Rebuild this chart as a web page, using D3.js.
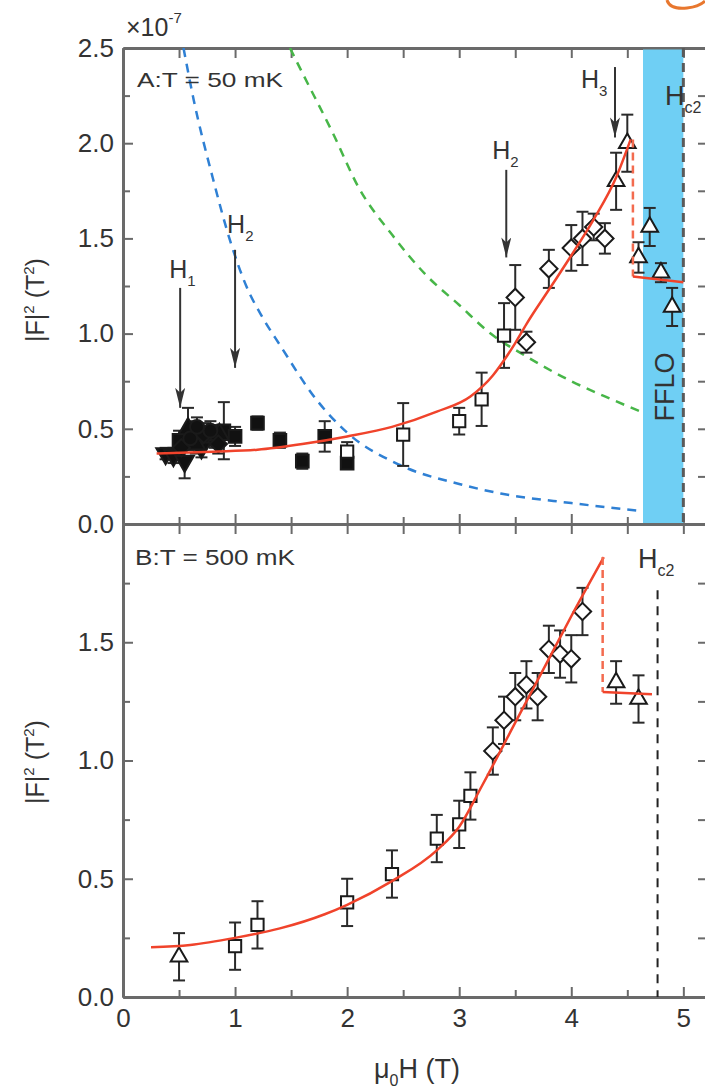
<!DOCTYPE html>
<html lang="en">
<head>
<meta charset="utf-8">
<title>FFLO form factor vs field</title>
<script src="https://cdn.jsdelivr.net/npm/d3@7"></script>
<style>
  body { margin: 0; background: #fff; }
  svg { display: block; font-family: "Liberation Sans", Arial, sans-serif; }
  .axis path { stroke: #6a6a6a; stroke-width: 3; }
  .axis line { stroke: #6a6a6a; stroke-width: 2; }
  .axis text { fill: #333; font-size: 26px; }
</style>
</head>
<body>
<svg id="chart" width="705" height="1092"></svg>
<script>
// field in tesla, |F|^2 in units of 1e-7 T^2
var xTicks = [0, 1, 2, 3, 4, 5];
var xMinor = [0.5, 1.5, 2.5, 3.5, 4.5];
var yTicksA = [0, 0.5, 1.0, 1.5, 2.0, 2.5];
var yMinorA = [0.25, 0.75, 1.25, 1.75, 2.25];
var yTicksB = [0, 0.5, 1.0, 1.5];
var yMinorB = [0.25, 0.75, 1.25, 1.75];

// ---- panel A : T = 50 mK ----  [field, value, error]
var aFilledSquares = [[0.50, 0.44, 0.05], [0.62, 0.48, 0.06], [0.68, 0.43, 0.05], [0.75, 0.46, 0.05],
  [0.82, 0.45, 0.05], [0.90, 0.49, 0.15], [1.0, 0.46, 0.05], [1.2, 0.53, 0.035], [1.4, 0.44, 0.04],
  [1.6, 0.33, 0.04], [1.8, 0.46, 0.08], [2.0, 0.32, 0.03]];
var aFilledDown = [[0.38, 0.37, 0.03], [0.45, 0.36, 0.04], [0.55, 0.33, 0.09], [0.70, 0.40, 0.05]];
var aFilledUp = [[0.58, 0.50, 0.11], [0.65, 0.42, 0.05], [0.86, 0.47, 0.05]];
var aFilledDiamonds = [[0.52, 0.40, 0.05], [0.72, 0.47, 0.06], [0.85, 0.42, 0.05]];
var aFilledCircles = [[0.60, 0.45, 0.06], [0.78, 0.49, 0.05], [0.66, 0.51, 0.05]];
var aOpenSquares = [[2.0, 0.38, 0.05], [2.5, 0.47, 0.165], [3.0, 0.54, 0.07], [3.2, 0.655, 0.14], [3.4, 0.99, 0.17]];
var aOpenDiamonds = [[3.5, 1.19, 0.17], [3.6, 0.955, 0.055], [3.8, 1.34, 0.10], [4.0, 1.45, 0.12],
  [4.1, 1.50, 0.14], [4.2, 1.56, 0.07], [4.3, 1.50, 0.08]];
var aOpenTriangles = [[4.4, 1.80, 0.15], [4.5, 2.00, 0.15], [4.6, 1.40, 0.08], [4.7, 1.56, 0.10],
  [4.8, 1.32, 0.05], [4.9, 1.14, 0.10]];
var aFit = [[0.3, 0.37], [0.8, 0.38], [1.2, 0.39], [1.6, 0.42], [2.0, 0.46], [2.4, 0.51], [2.8, 0.59],
  [3.1, 0.67], [3.3, 0.78], [3.4, 0.86], [3.5, 0.95], [3.6, 1.05], [3.8, 1.23], [4.0, 1.41],
  [4.2, 1.60], [4.4, 1.82], [4.53, 2.02]];
var aJump = [[4.55, 2.02], [4.55, 1.30]];
var aHigh = [[4.55, 1.30], [5.0, 1.27]];
var aBlue = [[0.54, 2.5], [0.63, 2.23], [0.8, 1.82], [0.96, 1.48], [1.1, 1.25], [1.25, 1.08], [1.4, 0.94],
  [1.73, 0.65], [2.0, 0.48], [2.47, 0.31], [3.0, 0.21], [3.37, 0.16], [4.0, 0.11], [4.6, 0.07]];
var aGreen = [[1.49, 2.5], [1.6, 2.37], [1.875, 2.05], [2.1, 1.77], [2.4, 1.52], [2.7, 1.31], [3.0, 1.15],
  [3.28, 1.0], [3.6, 0.88], [4.0, 0.75], [4.3, 0.67], [4.62, 0.59]];
var ffloBand = [4.64, 5.0];
var hc2A = 5.0;

// ---- panel B : T = 500 mK ----
var bOpenSquares = [[1.0, 0.215, 0.10], [1.2, 0.305, 0.10], [2.0, 0.40, 0.10], [2.4, 0.52, 0.10],
  [2.8, 0.67, 0.10], [3.0, 0.73, 0.10], [3.1, 0.85, 0.10]];
var bOpenDiamonds = [[3.3, 1.04, 0.10], [3.4, 1.17, 0.10], [3.5, 1.27, 0.10], [3.6, 1.32, 0.10],
  [3.7, 1.27, 0.10], [3.8, 1.47, 0.10], [3.9, 1.45, 0.10], [4.0, 1.43, 0.10], [4.1, 1.63, 0.10]];
var bOpenTriangles = [[0.5, 0.17, 0.10], [4.4, 1.33, 0.09], [4.6, 1.26, 0.10]];
var bFit = [[0.25, 0.21], [0.6, 0.22], [1.0, 0.25], [1.4, 0.29], [1.8, 0.35], [2.0, 0.39], [2.4, 0.49],
  [2.8, 0.62], [3.0, 0.72], [3.2, 0.89], [3.5, 1.16], [3.8, 1.43], [4.0, 1.61], [4.29, 1.86]];
var bJump = [[4.28, 1.86], [4.28, 1.29]];
var bHigh = [[4.28, 1.29], [4.72, 1.28]];
var hc2B = 4.77;

// arrows in panel A: field, start value, tip value, label offset (px)
var arrowsA = [
  {name: 'H', sub: '1', h: 0.51, from: 1.24, to: 0.61, dx: -11, dy: -10},
  {name: 'H', sub: '2', h: 1.0, from: 1.44, to: 0.82, dx: -8, dy: -17},
  {name: 'H', sub: '2', h: 3.42, from: 1.86, to: 1.40, dx: -14, dy: -11},
  {name: 'H', sub: '3', h: 4.39, from: 2.40, to: 2.03, dx: -34, dy: 21}
];

var svg = d3.select('#chart');

var x = d3.scaleLinear().domain([0, 5.22]).range([123, 708]);
var yA = d3.scaleLinear().domain([0, 2.5]).range([524, 48]);
var yB = d3.scaleLinear().domain([0, 2.0]).range([997, 524]);

var defs = svg.append('defs');
defs.append('marker')
  .attr('id', 'head')
  .attr('viewBox', '0 0 20 10')
  .attr('refX', 20).attr('refY', 5)
  .attr('markerWidth', 20).attr('markerHeight', 10)
  .attr('markerUnits', 'userSpaceOnUse')
  .attr('orient', 'auto')
  .append('path')
  .attr('d', 'M0,0 L20,5 L0,10 L5,5 Z')
  .attr('fill', '#333');

// clip for panel A curves
defs.append('clipPath').attr('id', 'clipA')
  .append('rect').attr('x', 123).attr('y', 48).attr('width', 585).attr('height', 476);

var fmt = d3.format('.1f');

function drawAxes(y, major, minor, opts) {
  var g = svg.append('g');
  var yr = y.range();
  // left
  g.append('g').attr('class', 'axis').attr('transform', 'translate(123,0)')
    .call(d3.axisLeft(y).tickValues(major).tickSizeInner(-10).tickSizeOuter(0).tickPadding(9).tickFormat(fmt));
  g.append('g').attr('class', 'axis').attr('transform', 'translate(123,0)')
    .call(d3.axisLeft(y).tickValues(minor).tickSizeInner(-7).tickSizeOuter(0).tickFormat(''));
  // right
  g.append('g').attr('class', 'axis').attr('transform', 'translate(708,0)')
    .call(d3.axisRight(y).tickValues(major.concat(minor)).tickSizeInner(-10).tickSizeOuter(0).tickFormat(''));
  // top
  g.append('g').attr('class', 'axis').attr('transform', 'translate(0,' + yr[1] + ')')
    .call(d3.axisTop(x).tickValues(xTicks.concat(xMinor)).tickSizeInner(-10).tickSizeOuter(0).tickFormat(''));
  // bottom
  g.append('g').attr('class', 'axis').attr('transform', 'translate(0,' + yr[0] + ')')
    .call(d3.axisBottom(x).tickValues(xTicks).tickSizeInner(-10).tickSizeOuter(0).tickPadding(12)
      .tickFormat(opts.xLabels ? d3.format('d') : ''));
  g.append('g').attr('class', 'axis').attr('transform', 'translate(0,' + yr[0] + ')')
    .call(d3.axisBottom(x).tickValues(xMinor).tickSizeInner(-7).tickSizeOuter(0).tickFormat(''));
  return g;
}

function line(y) {
  return d3.line().x(function(d) { return x(d[0]); }).y(function(d) { return y(d[1]); });
}
function smooth(y) {
  return line(y).curve(d3.curveMonotoneX);
}

function errorBars(g, data, y) {
  var eb = g.append('g').attr('stroke', '#2a2a2a').attr('stroke-width', 2);
  data.forEach(function(d) {
    var cx = x(d[0]), y1 = y(d[1] + d[2]), y2 = y(d[1] - d[2]);
    eb.append('line').attr('x1', cx).attr('x2', cx).attr('y1', y1).attr('y2', y2);
    eb.append('line').attr('x1', cx - 6).attr('x2', cx + 6).attr('y1', y1).attr('y2', y1);
    eb.append('line').attr('x1', cx - 6).attr('x2', cx + 6).attr('y1', y2).attr('y2', y2);
  });
}

function symbols(g, data, y, type, size, rot, filled) {
  g.append('g').selectAll('path').data(data).enter().append('path')
    .attr('d', d3.symbol().type(type).size(size))
    .attr('transform', function(d) {
      return 'translate(' + x(d[0]) + ',' + y(d[1]) + ') rotate(' + rot + ')';
    })
    .attr('fill', filled ? '#111' : '#fff')
    .attr('stroke', '#1a1a1a')
    .attr('stroke-width', 2);
}

// ---------- panel A ----------
drawAxes(yA, yTicksA, yMinorA, {xLabels: false});

svg.append('rect')
  .attr('x', x(ffloBand[0])).attr('width', x(ffloBand[1]) - x(ffloBand[0]))
  .attr('y', 49.5).attr('height', 476)
  .attr('fill', '#6fcff4');

var curvesA = svg.append('g').attr('clip-path', 'url(#clipA)');
curvesA.append('path').datum(aBlue).attr('d', smooth(yA))
  .attr('fill', 'none').attr('stroke', '#2f80d4').attr('stroke-width', 2.5).attr('stroke-dasharray', '9,7');
curvesA.append('path').datum(aGreen).attr('d', smooth(yA))
  .attr('fill', 'none').attr('stroke', '#47b648').attr('stroke-width', 2.5).attr('stroke-dasharray', '9,7');

svg.append('line')
  .attr('x1', x(hc2A)).attr('x2', x(hc2A)).attr('y1', yA(2.5)).attr('y2', yA(0))
  .attr('stroke', '#5a5a5a').attr('stroke-width', 3).attr('stroke-dasharray', '9,6');

svg.append('text')
  .attr('transform', 'translate(674,' + yA(0.72) + ') rotate(-90)')
  .attr('text-anchor', 'middle').attr('font-size', 27).attr('fill', '#333')
  .text('FFLO');

var pA = svg.append('g');
[aFilledSquares, aFilledDown, aFilledUp, aFilledDiamonds, aFilledCircles,
 aOpenSquares, aOpenDiamonds, aOpenTriangles].forEach(function(s) { errorBars(pA, s, yA); });
symbols(pA, aFilledSquares, yA, d3.symbolSquare, 160, 0, true);
symbols(pA, aFilledDown, yA, d3.symbolTriangle, 150, 180, true);
symbols(pA, aFilledUp, yA, d3.symbolTriangle, 150, 0, true);
symbols(pA, aFilledDiamonds, yA, d3.symbolSquare, 150, 45, true);
symbols(pA, aFilledCircles, yA, d3.symbolCircle, 150, 0, true);
symbols(pA, aOpenSquares, yA, d3.symbolSquare, 150, 0, false);
symbols(pA, aOpenDiamonds, yA, d3.symbolSquare, 150, 45, false);
symbols(pA, aOpenTriangles, yA, d3.symbolTriangle, 120, 0, false);

svg.append('path').datum(aFit).attr('d', smooth(yA))
  .attr('fill', 'none').attr('stroke', '#f0432b').attr('stroke-width', 2.5);
svg.append('path').datum(aJump).attr('d', line(yA))
  .attr('fill', 'none').attr('stroke', '#f36b4f').attr('stroke-width', 2.5).attr('stroke-dasharray', '8,5');
svg.append('path').datum(aHigh).attr('d', line(yA))
  .attr('fill', 'none').attr('stroke', '#f0432b').attr('stroke-width', 2.5);

// arrows
var arr = svg.append('g');
arrowsA.forEach(function(a) {
  arr.append('line')
    .attr('x1', x(a.h)).attr('x2', x(a.h)).attr('y1', yA(a.from)).attr('y2', yA(a.to))
    .attr('stroke', '#333').attr('stroke-width', 2).attr('marker-end', 'url(#head)');
  var t = arr.append('text')
    .attr('x', x(a.h) + a.dx).attr('y', yA(a.from) + a.dy)
    .attr('font-size', 25).attr('fill', '#333');
  t.append('tspan').text(a.name);
  t.append('tspan').attr('font-size', 15).attr('dy', 8).text(a.sub);
});

function hc2Label(px, py) {
  var t = svg.append('text').attr('x', px).attr('y', py).attr('font-size', 27).attr('fill', '#333');
  t.append('tspan').text('H');
  t.append('tspan').attr('font-size', 16).attr('dy', 8).text('c2');
}
hc2Label(665, 105);

svg.append('text').attr('x', 137).attr('y', 87).attr('font-size', 21).attr('fill', '#333')
  .attr('textLength', 146).attr('lengthAdjust', 'spacingAndGlyphs')
  .text('A:T = 50 mK');

// ---------- panel B ----------
drawAxes(yB, yTicksB, yMinorB, {xLabels: true});

svg.append('line')
  .attr('x1', x(hc2B)).attr('x2', x(hc2B)).attr('y1', yB(1.72)).attr('y2', yB(0))
  .attr('stroke', '#222').attr('stroke-width', 2).attr('stroke-dasharray', '9,7');
hc2Label(638, 568);

var pB = svg.append('g');
[bOpenSquares, bOpenDiamonds, bOpenTriangles].forEach(function(s) { errorBars(pB, s, yB); });
symbols(pB, bOpenSquares, yB, d3.symbolSquare, 150, 0, false);
symbols(pB, bOpenDiamonds, yB, d3.symbolSquare, 150, 45, false);
symbols(pB, bOpenTriangles, yB, d3.symbolTriangle, 120, 0, false);

svg.append('path').datum(bFit).attr('d', smooth(yB))
  .attr('fill', 'none').attr('stroke', '#f0432b').attr('stroke-width', 2.5);
svg.append('path').datum(bJump).attr('d', line(yB))
  .attr('fill', 'none').attr('stroke', '#f36b4f').attr('stroke-width', 2.5).attr('stroke-dasharray', '8,5');
svg.append('path').datum(bHigh).attr('d', line(yB))
  .attr('fill', 'none').attr('stroke', '#f0432b').attr('stroke-width', 2.5);

svg.append('text').attr('x', 135).attr('y', 565).attr('font-size', 22).attr('fill', '#333')
  .attr('textLength', 160).attr('lengthAdjust', 'spacingAndGlyphs')
  .text('B:T = 500 mK');

// ---------- axis titles ----------
function yTitle(cy) {
  var t = svg.append('text')
    .attr('transform', 'translate(44,' + cy + ') rotate(-90)')
    .attr('text-anchor', 'middle').attr('font-size', 25).attr('fill', '#333');
  t.append('tspan').text('|F|');
  t.append('tspan').attr('font-size', 15).attr('dy', -10).text('2');
  t.append('tspan').attr('dy', 10).text(' (T');
  t.append('tspan').attr('font-size', 15).attr('dy', -10).text('2');
  t.append('tspan').attr('dy', 10).text(')');
}
yTitle(300);
yTitle(762);

var xt = svg.append('text').attr('x', 417).attr('y', 1078)
  .attr('text-anchor', 'middle').attr('font-size', 27).attr('fill', '#333');
xt.append('tspan').text('μ');
xt.append('tspan').attr('font-size', 16).attr('dy', 8).text('0');
xt.append('tspan').attr('dy', -8).text('H (T)');

var mult = svg.append('text').attr('x', 126).attr('y', 36).attr('font-size', 25).attr('fill', '#333');
mult.append('tspan').text('×10');
mult.append('tspan').attr('font-size', 15).attr('dy', -13).text('-7');

// stray orange stroke cut off at the top edge of the page
svg.append('path')
  .attr('d', 'M667,0 C669,7 677,9 687,8 C697,7 702,4 705,1')
  .attr('fill', 'none').attr('stroke', '#e8772e').attr('stroke-width', 3);
</script>
</body>
</html>
